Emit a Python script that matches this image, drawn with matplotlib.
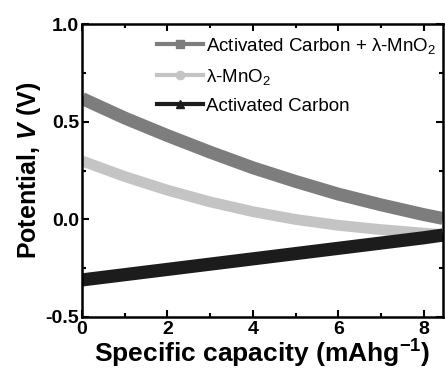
import matplotlib
matplotlib.use('Agg')
import matplotlib.pyplot as plt
from matplotlib.lines import Line2D
from matplotlib.ticker import MultipleLocator

plt.rcParams['font.family'] = ['Liberation Sans', 'DejaVu Sans']
plt.rcParams['mathtext.fontset'] = 'custom'
plt.rcParams['mathtext.rm'] = 'Liberation Sans'
plt.rcParams['mathtext.it'] = 'Liberation Sans:italic:bold'
plt.rcParams['mathtext.bf'] = 'Liberation Sans:bold'
plt.rcParams['axes.unicode_minus'] = False

# 数据
capacity = [0, 1, 2, 3, 4, 5, 6, 7, 8, 8.45]
ac_mno2 = [0.62, 0.52, 0.43, 0.345, 0.265, 0.195, 0.13, 0.075, 0.025, 0.005]
mno2 = [0.30, 0.22, 0.15, 0.09, 0.04, 0.0, -0.03, -0.052, -0.07, -0.078]
ac = [-0.31, -0.283, -0.256, -0.229, -0.202, -0.175, -0.148, -0.121, -0.094, -0.08]

labels = ['Activated Carbon + λ-MnO$_\\mathrm{2}$', 'λ-MnO$_\\mathrm{2}$', 'Activated Carbon']
colors = ['#7d7d7d', '#c4c4c4', '#1c1c1c']
markers = ['s', 'o', '^']

fig = plt.figure(figsize=(4.46, 3.81), dpi=100)
ax = fig.add_axes([0.184, 0.168, 0.809, 0.768])

ax.plot(capacity, ac_mno2, color=colors[0], lw=9.3, solid_capstyle='butt', solid_joinstyle='round')
ax.plot(capacity, mno2, color=colors[1], lw=7.8, solid_capstyle='butt', solid_joinstyle='round')
ax.plot(capacity, ac, color=colors[2], lw=9.5, solid_capstyle='butt', solid_joinstyle='round')

ax.set_xlim(0, 8.45)
ax.set_ylim(-0.5, 1.0)
ax.xaxis.set_major_locator(MultipleLocator(2))
ax.xaxis.set_minor_locator(MultipleLocator(1))
ax.yaxis.set_major_locator(MultipleLocator(0.5))
ax.yaxis.set_minor_locator(MultipleLocator(0.25))
ax.tick_params(which='both', direction='in', top=True, right=True, width=1.5)
ax.tick_params(which='major', length=5, labelsize=14, pad=2)
ax.tick_params(axis='x', which='major', pad=3)
ax.tick_params(which='minor', length=3)
for lab in ax.get_xticklabels() + ax.get_yticklabels():
    lab.set_fontweight('bold')
for sp in ax.spines.values():
    sp.set_linewidth(1.8)

ax.set_xlabel('Specific capacity (mAhg$^{\\mathbf{-1}}$)', fontsize=19, fontweight='bold', labelpad=0)
ax.set_ylabel('Potential, $V$ (V)', fontsize=18, fontweight='bold', labelpad=2)

handles = [Line2D([], [], color=c, lw=3, marker=m, markersize=6) for c, m in zip(colors, markers)]
ax.legend(handles, labels, loc='upper left', bbox_to_anchor=(0.207, 0.961), frameon=False,
          fontsize=13.5, handlelength=2.45, handletextpad=0.2, labelspacing=0.58,
          borderpad=0, borderaxespad=0)

fig.savefig('out.png', dpi=100)
